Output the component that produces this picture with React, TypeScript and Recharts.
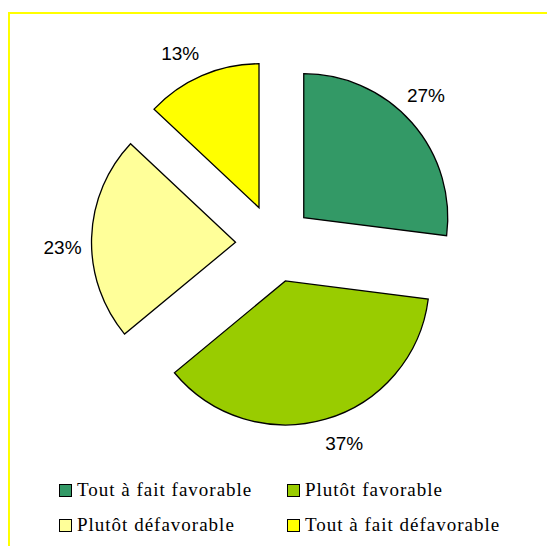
import React from "react";
import { Cell, Legend, Pie, PieChart, Sector } from "recharts";

const categories = [
  "Tout à fait favorable",
  "Plutôt favorable",
  "Plutôt défavorable",
  "Tout à fait défavorable",
];
const shares = [27, 37, 23, 13];
const colors = ["#339966", "#99CC00", "#FFFF99", "#FFFF00"];

const data = categories.map((name, i) => ({ name, value: shares[i] }));

const RAD = Math.PI / 180;
const EXPLODE = 39;

const ExplodedSector = (props: any) => {
  const { cx, cy, midAngle } = props;
  const dx = EXPLODE * Math.cos(-midAngle * RAD);
  const dy = EXPLODE * Math.sin(-midAngle * RAD);
  return <Sector {...props} cx={cx + dx} cy={cy + dy} />;
};

const renderLabel = (props: any) => {
  const { cx, cy, midAngle, outerRadius, value } = props;
  const r = outerRadius + EXPLODE + 29;
  // excel nudges the labels a little counter-clockwise
  const a = -(midAngle + 3) * RAD;
  const x = cx + r * Math.cos(a);
  const y = cy + r * Math.sin(a);
  return (
    <text
      x={x}
      y={y}
      textAnchor="middle"
      dominantBaseline="central"
      fill="#000"
      fontSize={19}
      fontFamily="'Liberation Sans', Arial, sans-serif"
    >
      {`${value}%`}
    </text>
  );
};

const renderLegend = (props: any) => {
  const items = [...(props.payload || [])].sort(
    (a: any, b: any) => categories.indexOf(a.value) - categories.indexOf(b.value)
  );
  return (
    <div style={{ position: "relative", width: 547, height: 70 }}>
      {items.map((entry: any, i: number) => {
        const col = i % 2;
        const row = Math.floor(i / 2);
        return (
          <div
            key={entry.value}
            style={{
              position: "absolute",
              left: 59 + col * 228,
              top: row * 35,
              display: "flex",
              alignItems: "center",
              fontFamily: "'Liberation Serif', 'Times New Roman', serif",
              fontSize: 19,
              letterSpacing: 1,
              color: "#000",
              whiteSpace: "nowrap",
              lineHeight: "20px",
            }}
          >
            <span
              style={{
                display: "inline-block",
                width: 11,
                height: 11,
                border: "1.5px solid #000",
                background: colors[categories.indexOf(entry.value)],
                marginRight: 5,
              }}
            />
            <span>{entry.value}</span>
          </div>
        );
      })}
    </div>
  );
};

export default function App() {
  return (
    <div
      style={{
        position: "absolute",
        left: 0,
        top: 0,
        width: 547,
        height: 546,
        overflow: "hidden",
        background: "#fff",
      }}
    >
      <div
        style={{
          position: "absolute",
          left: 8,
          top: 12,
          width: 600,
          height: 600,
          border: "2px solid #FFFF00",
        }}
      />
      <PieChart
        width={547}
        height={546}
        margin={{ top: 0, right: 0, bottom: 0, left: 0 }}
        style={{ position: "absolute", left: 0, top: 0 }}
      >
        <Pie
          data={data}
          dataKey="value"
          nameKey="name"
          cx={274.5}
          cy={243.5}
          outerRadius={144}
          startAngle={90}
          endAngle={-270}
          stroke="#000"
          strokeWidth={1.3}
          label={renderLabel}
          labelLine={false}
          shape={ExplodedSector}
          inactiveShape={ExplodedSector}
          isAnimationActive={false}
        >
          {data.map((d, i) => (
            <Cell key={d.name} fill={colors[i]} />
          ))}
        </Pie>
        <Legend
          content={renderLegend}
          wrapperStyle={{ position: "absolute", left: 0, top: 480, width: 547, height: 70 }}
        />
      </PieChart>
    </div>
  );
}
